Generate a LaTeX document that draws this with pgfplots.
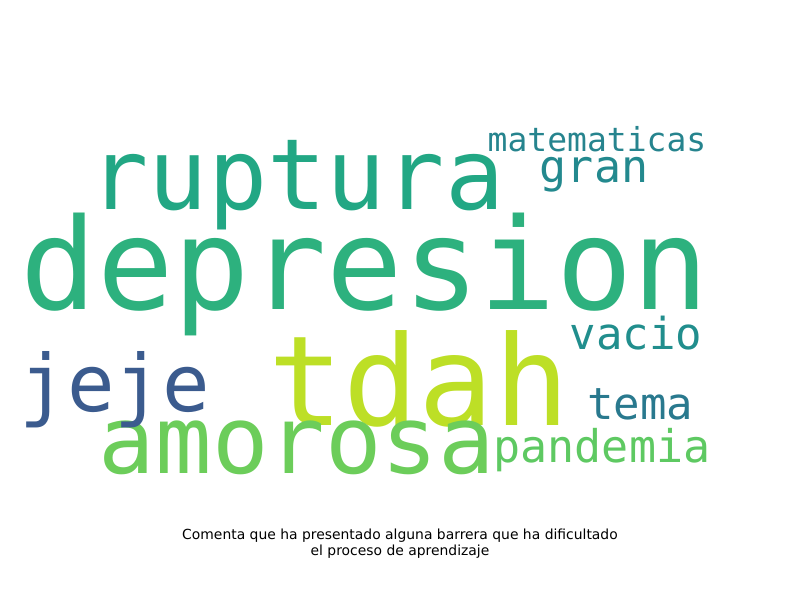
\documentclass[border=0pt]{standalone}
\usepackage{pgfplots}
\pgfplotsset{compat=1.18}
\usepackage{fontspec}
\setmainfont{DejaVu Sans}
\newfontfamily\mono{DejaVu Sans Mono}
\definecolor{cdep}{HTML}{2DB17E}
\definecolor{crup}{HTML}{22A784}
\definecolor{ctdah}{HTML}{BDDF26}
\definecolor{camo}{HTML}{6CCD5A}
\definecolor{cjeje}{HTML}{3B5B8E}
\definecolor{cmat}{HTML}{26848E}
\definecolor{cgran}{HTML}{23898E}
\definecolor{cvac}{HTML}{218E8D}
\definecolor{ctema}{HTML}{29798E}
\definecolor{cpan}{HTML}{5EC962}
\newcommand\word[5]{%
\addplot[draw=none, mark=none, nodes near coords, point meta=explicit symbolic,
  every node near coord/.style={anchor=base, inner sep=0pt, text=#5,
  font=\fontsize{#4}{#4}\selectfont\mono}]
  table[meta=label, row sep=\\]{x y label\\ #1 #2 #3\\};}
\begin{document}
\begin{tikzpicture}
\begin{axis}[scale only axis, width=800pt, height=600pt, xmin=0, xmax=800, ymin=0, ymax=600,
  axis lines=none, clip=false, ticks=none]
\path[use as bounding box] (axis cs:0,0) rectangle (axis cs:800,600);
\word{365}{290}{depresion}{127}{cdep}
\word{297}{390}{ruptura}{98.5}{crup}
\word{419}{175}{tdah}{125}{ctdah}
\word{297}{127}{amorosa}{94}{camo}
\word{115}{188}{jeje}{79}{cjeje}
\word{597}{448}{matematicas}{33}{cmat}
\word{594}{417}{gran}{45}{cgran}
\word{636}{250}{vacio}{44}{cvac}
\word{640}{180}{tema}{44}{ctema}
\word{602}{138}{pandemia}{45}{cpan}
\node[align=center, font=\fontsize{13.9}{16}\selectfont] at (axis cs:400,56) {Comenta que ha presentado alguna barrera que ha dificultado\\el proceso de aprendizaje};
\end{axis}
\end{tikzpicture}
\end{document}
